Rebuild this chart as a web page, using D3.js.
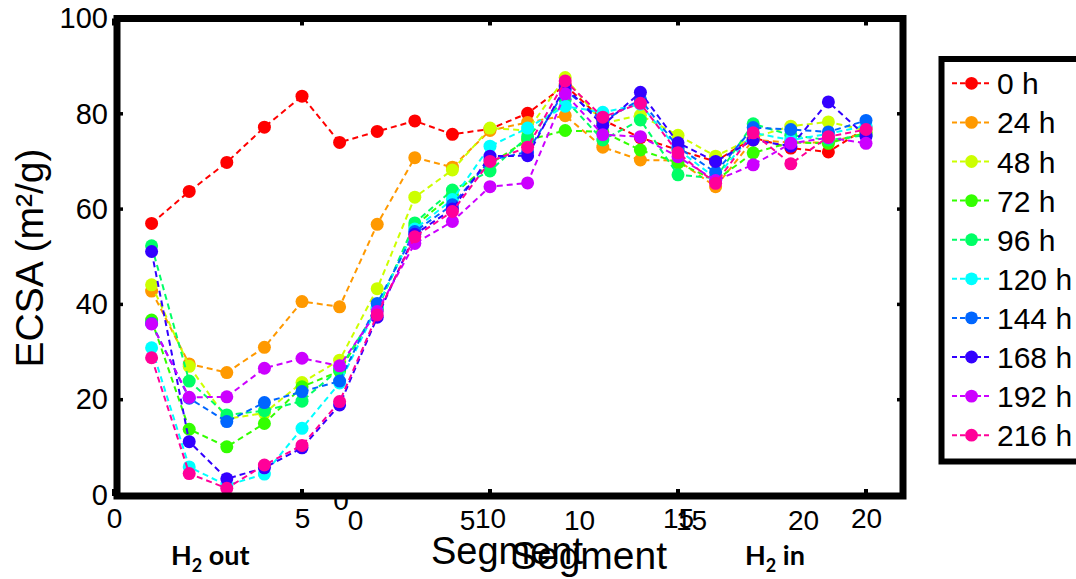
<!DOCTYPE html>
<html><head><meta charset="utf-8">
<script src="https://cdn.jsdelivr.net/npm/d3@7"></script>
<style>body{margin:0;background:#fff}svg{display:block}</style>
</head><body>
<svg id="c" width="1076" height="579"></svg>
<script>
const segments = d3.range(1, 21);
const seriesNames = ["0 h","24 h","48 h","72 h","96 h","120 h","144 h","168 h","192 h","216 h"];
const seriesColors = ["#ff0000","#ff9900","#ccff00","#33ff00","#00ff66","#00ffff","#0066ff","#3300ff","#cc00ff","#ff0099"];
const s0   = [57.0,63.7,69.8,77.2,83.7,74.0,76.3,78.5,75.7,76.8,80.1,86.0,78.7,75.0,72.4,70.0,75.0,72.8,72.0,77.0];
const s24  = [42.8,27.5,25.7,31.0,40.6,39.5,56.8,70.8,68.8,76.5,78.2,79.6,73.0,70.3,70.2,64.7,74.5,74.0,74.0,76.0];
const s48  = [44.1,27.0,16.0,17.2,23.6,28.3,43.3,62.5,68.2,77.0,76.5,87.6,78.0,79.7,75.5,71.1,75.0,77.4,78.3,76.5];
const s72  = [36.7,13.8,10.1,15.0,22.7,26.0,39.0,56.5,63.0,69.5,74.5,76.5,76.2,72.4,69.7,66.0,71.8,74.0,73.8,76.0];
const s96  = [52.3,23.9,16.8,17.7,19.7,26.5,39.0,57.1,64.0,68.0,75.2,83.0,74.5,78.7,67.2,66.5,77.9,75.5,74.5,75.5];
const s120 = [30.9,5.9,2.0,4.4,14.0,23.5,39.5,55.8,62.0,73.2,77.0,81.6,80.3,82.0,72.5,66.5,76.0,74.5,75.8,77.5];
const s144 = [36.0,20.3,15.4,19.4,21.7,23.9,40.2,55.3,60.9,70.3,72.0,85.0,78.5,83.0,73.0,67.7,77.1,76.7,76.2,78.6];
const s168 = [51.1,11.2,3.4,5.7,9.9,18.9,37.3,54.7,60.0,71.1,71.2,85.7,77.6,84.5,73.9,70.0,74.5,73.2,82.5,75.3];
const s192 = [35.9,20.5,20.6,26.6,28.7,27.1,38.5,52.8,57.4,64.7,65.5,84.2,75.6,75.2,71.0,66.0,69.3,73.8,75.0,73.8];
const s216 = [28.8,4.5,1.4,6.3,10.4,19.6,37.8,54.2,59.5,70.0,73.0,86.9,79.3,82.2,71.8,65.4,76.0,69.5,75.2,76.7];
const seriesValues = [s0,s24,s48,s72,s96,s120,s144,s168,s192,s216];
const xTicks = [0,5,10,15,20];
const yTicks = [0,20,40,60,80,100];
const yLabel = "ECSA (m²/g)";
const xLabel = "Segment";

const FONT = "'Liberation Sans', Arial, sans-serif";
const svg = d3.select("#c");
const x = d3.scaleLinear().domain([0,21]).range([114, 903.6]);
const x2 = d3.scaleLinear().domain([0,20]).range([355, 803]);
const y = d3.scaleLinear().domain([0,100]).range([495, 18.5]);
const L = 117, R = 903, T = 18.5, B = 496;

// data
const line = d3.line().x((d,i)=>x(segments[i])).y(d=>y(d));
seriesValues.forEach((vals,k)=>{
  const g = svg.append("g");
  g.append("path").attr("d", line(vals)).attr("fill","none")
    .attr("stroke", seriesColors[k]).attr("stroke-width",2).attr("stroke-dasharray","6,4");
  g.selectAll("circle").data(vals).join("circle")
    .attr("cx",(d,i)=>x(segments[i])).attr("cy",d=>y(d)).attr("r",6.5)
    .attr("fill",seriesColors[k]);
});

// clipped stray zero
svg.append("clipPath").attr("id","clz").append("rect").attr("x",320).attr("y",499).attr("width",50).attr("height",20);
svg.append("text").attr("clip-path","url(#clz)").attr("x",341).attr("y",510)
  .attr("text-anchor","middle").attr("font-family",FONT).attr("font-size",28).text("0");

// frame
svg.append("rect").attr("x",L).attr("y",T).attr("width",R-L).attr("height",B-T)
  .attr("fill","none").attr("stroke","#000").attr("stroke-width",7);

// y axis
const ya = svg.append("g").attr("transform",`translate(${L},0)`)
  .call(d3.axisLeft(y).tickValues(yTicks).tickSize(0).tickPadding(9));
ya.select(".domain").remove();
ya.selectAll("text").attr("font-family",FONT).attr("font-size",29).attr("fill","#000");
// inward ticks
yTicks.forEach(t=>{
  svg.append("line").attr("x1",L).attr("x2",L+6).attr("y1",y(t)).attr("y2",y(t)).attr("stroke","#000").attr("stroke-width",3.5);
  svg.append("line").attr("x1",R-6).attr("x2",R).attr("y1",y(t)).attr("y2",y(t)).attr("stroke","#000").attr("stroke-width",3.5);
});
xTicks.forEach(t=>{
  svg.append("line").attr("x1",x(t)).attr("x2",x(t)).attr("y1",B).attr("y2",B-7).attr("stroke","#000").attr("stroke-width",4);
  svg.append("line").attr("x1",x(t)).attr("x2",x(t)).attr("y1",T).attr("y2",T+7).attr("stroke","#000").attr("stroke-width",4);
});

// x axes (two overlapping, as in the reference)
const xa = svg.append("g").attr("transform",`translate(0,${B})`)
  .call(d3.axisBottom(x).tickValues(xTicks).tickSize(0).tickPadding(12));
xa.select(".domain").remove();
xa.selectAll("text").attr("font-family",FONT).attr("font-size",28).attr("fill","#000");
const xb = svg.append("g").attr("transform",`translate(0,${B+2})`)
  .call(d3.axisBottom(x2).tickValues(xTicks).tickSize(0).tickPadding(12));
xb.select(".domain").remove();
xb.selectAll("text").attr("font-family",FONT).attr("font-size",28).attr("fill","#000");

// axis titles
svg.append("text").attr("transform","translate(43,258) rotate(-90)").attr("text-anchor","middle")
  .attr("font-family",FONT).attr("font-size",39).text(yLabel);
svg.append("text").attr("x",507).attr("y",564).attr("text-anchor","middle")
  .attr("font-family",FONT).attr("font-size",38).text(xLabel);
svg.append("text").attr("x",589).attr("y",569).attr("text-anchor","middle")
  .attr("font-family",FONT).attr("font-size",39).text(xLabel);

// H2 labels
function h2(xp, word){
  const t = svg.append("text").attr("x",xp).attr("y",565).attr("font-family","Lato, 'Open Sans', sans-serif")
    .attr("font-weight",700).attr("font-size",27).attr("fill","#000");
  t.append("tspan").text("H");
  t.append("tspan").attr("font-size",18).attr("dy",7).text("2");
  t.append("tspan").attr("dy",-7).text(" " + word);
}
h2(171, "out");
h2(745, "in");

// legend
const lg = svg.append("g");
lg.append("rect").attr("x",941.5).attr("y",59).attr("width",200).attr("height",402.5)
  .attr("fill","#fff").attr("stroke","#000").attr("stroke-width",6);
seriesNames.forEach((n,k)=>{
  const cy = 83.3 + k*39.1;
  lg.append("line").attr("x1",952).attr("x2",991).attr("y1",cy).attr("y2",cy)
    .attr("stroke",seriesColors[k]).attr("stroke-width",2).attr("stroke-dasharray","5,3");
  lg.append("circle").attr("cx",971.5).attr("cy",cy).attr("r",6.4).attr("fill",seriesColors[k]);
  lg.append("text").attr("x",997).attr("y",cy+11).attr("font-family",FONT).attr("font-size",30).text(n);
});
</script>
</body></html>
